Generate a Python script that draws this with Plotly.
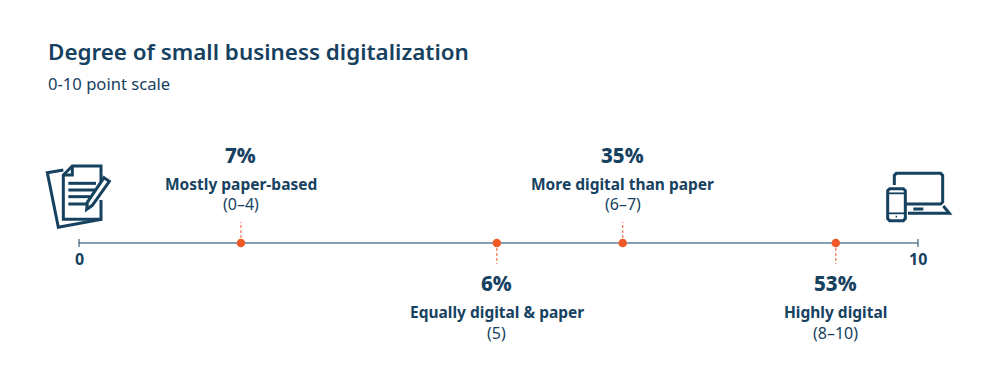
import plotly.graph_objects as go

# Data
scale_positions = [1.93, 4.98, 6.48, 9.02]
percent_labels = ["7%", "6%", "35%", "53%"]
category_labels = ["Mostly paper-based", "Equally digital &amp; paper", "More digital than paper", "Highly digital"]
range_labels = ["(0–4)", "(5)", "(6–7)", "(8–10)"]
label_side = ["up", "down", "up", "down"]
axis_ends = [0, 10]
axis_end_labels = ["0", "10"]
title = "Degree of small business digitalization"
subtitle = "0-10 point scale"

W, H = 1000, 387
NAVY = "#16415f"
AXIS = "#5f7f98"
ORANGE = "#ef5a28"
STEM = "#f08a68"
FONT = "Noto Sans"
X0_PX, X10_PX, AXIS_PX = 79.0, 918.0, 243.0
PX_PER_UNIT = (X10_PX - X0_PX) / 10


def px(x):
    return x / W


def py(y):
    return 1 - y / H


def pth(points, offset, close=False):
    ox, oy = offset
    out = []
    for i, (x, y) in enumerate(points):
        out.append(("M" if i == 0 else "L") + f"{px(ox + x / 3):.5f},{py(oy + y / 3):.5f}")
    return " ".join(out) + (" Z" if close else "")


fig = go.Figure()

# y axis is in pixels away from the scale line, positive = up
def sign(side):
    return 1 if side == "up" else -1


# scale line
fig.add_trace(go.Scatter(x=axis_ends, y=[0, 0], mode="lines", line=dict(color=AXIS, width=1.5),
                         hoverinfo="skip", showlegend=False))
for e in axis_ends:
    fig.add_trace(go.Scatter(x=[e, e], y=[-4, 4], mode="lines", line=dict(color=NAVY, width=1),
                             hoverinfo="skip", showlegend=False))
# stems
for p, s in zip(scale_positions, label_side):
    fig.add_trace(go.Scatter(x=[p, p], y=[0, 21 * sign(s)], mode="lines",
                             line=dict(color=STEM, width=1.4, dash="3px,2px"),
                             hoverinfo="skip", showlegend=False))
# dots
fig.add_trace(go.Scatter(x=scale_positions, y=[0] * len(scale_positions), mode="markers",
                         marker=dict(color=ORANGE, size=8.5), hoverinfo="skip", showlegend=False))

ann = []


def text(x, y, t, size, weight=400, xref="x", yref="y", xanchor="center"):
    ann.append(dict(x=x, y=y, xref=xref, yref=yref, text=t, showarrow=False, xanchor=xanchor, yanchor="middle",
                    font=dict(family=FONT, size=size, color=NAVY, weight=weight), borderpad=0))


for p, pct, cat, rng, s in zip(scale_positions, percent_labels, category_labels, range_labels, label_side):
    if s == "up":
        text(p, 88, pct, 20.5, 800)
        text(p, 59, cat, 15.5, 700)
        text(p, 39, rng, 16)
    else:
        text(p, -40, pct, 20.5, 800)
        text(p, -69, cat, 15.5, 700)
        text(p, -90, rng, 16)
for e, lab in zip(axis_ends, axis_end_labels):
    text(e, -16, lab, 16, 700)

text(px(46.5), py(52), title, 22.4, 600, "paper", "paper", "left")
text(px(46.5), py(84), subtitle, 16.6, 400, "paper", "paper", "left")

# icons: outline shapes only
shapes = []


def stroke(points, offset, width=3, close=False):
    shapes.append(dict(type="path", xref="paper", yref="paper", path=pth(points, offset, close),
                       line=dict(color=NAVY, width=width), fillcolor="rgba(0,0,0,0)" if not close else None))


o = (30, 140)
stroke([(100, 90), (52, 98), (85, 262), (215, 238)], o)
stroke([(213, 125), (213, 78), (127, 78), (100, 105), (100, 238), (213, 238), (213, 180)], o)
stroke([(127, 78), (127, 105), (100, 105)], o)
for line in ([(115, 130), (198, 130)], [(115, 150), (198, 150)], [(115, 170), (180, 170)], [(115, 192), (170, 192)]):
    stroke(line, o)
stroke([(222, 113), (238, 124), (187, 196), (170, 208), (172, 187)], o, close=True)

o = (780, 150)
stroke([(343, 105), (343, 76), (349, 70), (482, 70), (488, 76), (488, 156), (482, 162), (378, 162)], o)
stroke([(384, 190), (508, 190), (490, 168)], o)
stroke([(400, 177), (430, 177)], o)
stroke([(329, 116), (370, 116), (376, 122), (376, 206), (370, 212), (329, 212), (323, 206), (323, 122)], o, close=True)
stroke([(323, 130), (376, 130)], o, width=1.8)
stroke([(323, 190), (376, 190)], o, width=1.8)
stroke([(347, 200), (351, 200)], o, width=1.8)

fig.update_layout(
    width=W, height=H, autosize=False,
    margin=dict(l=0, r=0, t=0, b=0),
    paper_bgcolor="white", plot_bgcolor="white",
    showlegend=False,
    annotations=ann, shapes=shapes,
    xaxis=dict(range=[-X0_PX / PX_PER_UNIT, (W - X0_PX) / PX_PER_UNIT], visible=False, fixedrange=True),
    yaxis=dict(range=[-(H - AXIS_PX), AXIS_PX], visible=False, fixedrange=True),
)
fig.write_html("out.html", config={"displayModeBar": False, "responsive": False},
               post_script="document.body.style.margin='0';document.body.style.overflow='hidden';")
